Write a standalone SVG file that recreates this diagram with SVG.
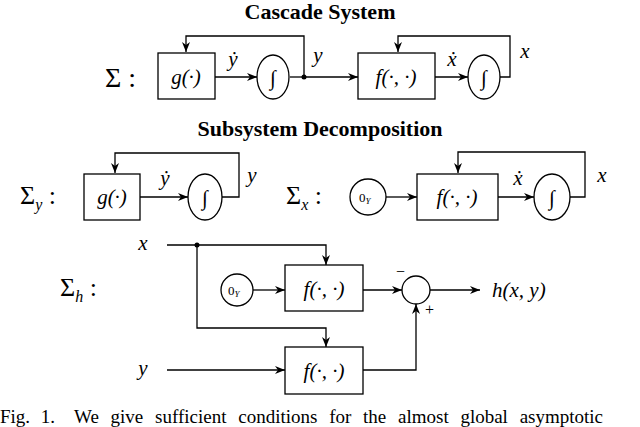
<svg xmlns="http://www.w3.org/2000/svg" width="640" height="427" viewBox="0 0 640 427" font-family="'Liberation Serif', 'Times New Roman', serif">
<style>
text{font-family:'Liberation Serif','Times New Roman',serif;fill:#000}
.t{font-weight:bold;font-size:22px}
.m{font-style:italic;font-size:21px}
.r{font-size:20px}
.b{fill:#fff;stroke:#000;stroke-width:1.3}
.l{fill:none;stroke:#000;stroke-width:1.3}
.a{fill:none;stroke:#000;stroke-width:1.3;marker-end:url(#ar)}
</style>
<defs><marker id="ar" viewBox="0 0 10 8" refX="10" refY="4" markerWidth="10" markerHeight="8" markerUnits="userSpaceOnUse" orient="auto"><path d="M0,0L10,4L0,8L3,4z" fill="#000"/></marker></defs>
<rect width="640" height="427" fill="#fff"/>
<text class="t" x="320" y="19" text-anchor="middle">Cascade System</text>
<text class="t" x="320" y="136" text-anchor="middle">Subsystem Decomposition</text>
<g id="connectors">
<path class="a" d="M304,77V36H186V52"/>
<path class="a" d="M215,77H257"/>
<path class="l" d="M290,77H304"/>
<path class="a" d="M304,77H358"/>
<circle cx="304" cy="77" r="2.5"/>
<path class="a" d="M435,77H468"/>
<path class="a" d="M500,77H510V36H398V52"/>
<path class="a" d="M140,197H188"/>
<path class="a" d="M222,197H239V153H115V173"/>
<path class="a" d="M386,197H417"/>
<path class="a" d="M498,197H534"/>
<path class="a" d="M570,197H585V152H458V173"/>
<path class="a" d="M167,245H326V265"/>
<circle cx="197" cy="245" r="2.5"/>
<path class="a" d="M197,245V328H326V347"/>
<path class="a" d="M253,290H285"/>
<path class="a" d="M363,290H402"/>
<path class="a" d="M430,290H480"/>
<path class="a" d="M167,370H285"/>
<path class="a" d="M363,370H416V304"/>
</g>
<text class="r" x="105" y="87" style="font-size:28px">Σ :</text>
<g id="g1"><rect class="b" x="158" y="53" width="57" height="46"/><text class="m" x="186" y="84" text-anchor="middle">g(·)</text></g>
<text class="m" x="233" y="66" text-anchor="middle">ẏ</text>
<g id="int1"><ellipse class="b" cx="273" cy="77" rx="16" ry="22"/><text class="m" x="273" y="85" text-anchor="middle">∫</text></g>
<text class="m" x="318" y="62" text-anchor="middle">y</text>
<g id="f1"><rect class="b" x="358" y="53" width="77" height="46"/><text class="m" x="396" y="84" text-anchor="middle">f(·, ·)</text></g>
<text class="m" x="452" y="66" text-anchor="middle">ẋ</text>
<g id="int2"><ellipse class="b" cx="484" cy="77" rx="16" ry="22"/><text class="m" x="484" y="85" text-anchor="middle">∫</text></g>
<text class="m" x="525" y="58" text-anchor="middle">x</text>

<text class="r" x="20" y="204" style="font-size:26px">Σ<tspan class="m" style="font-size:16px" dy="6">y</tspan><tspan dy="-6"> :</tspan></text>
<g id="g2"><rect class="b" x="84" y="174" width="56" height="46"/><text class="m" x="112" y="204" text-anchor="middle">g(·)</text></g>
<text class="m" x="165" y="185" text-anchor="middle">ẏ</text>
<g id="int3"><ellipse class="b" cx="205" cy="197" rx="17" ry="23"/><text class="m" x="205" y="205" text-anchor="middle">∫</text></g>
<text class="m" x="252" y="182" text-anchor="middle">y</text>
<text class="r" x="286" y="204" style="font-size:26px">Σ<tspan class="m" style="font-size:16px" dy="6">x</tspan><tspan dy="-6"> :</tspan></text>
<g id="z1"><circle class="b" cx="368" cy="197" r="18"/><text class="r" x="359" y="202" style="font-size:13px">0<tspan class="m" style="font-size:9px" dy="2">Y</tspan></text></g>
<g id="f2"><rect class="b" x="417" y="174" width="81" height="46"/><text class="m" x="457" y="204" text-anchor="middle">f(·, ·)</text></g>
<text class="m" x="518" y="185" text-anchor="middle">ẋ</text>
<g id="int4"><ellipse class="b" cx="552" cy="197" rx="18" ry="23"/><text class="m" x="552" y="205" text-anchor="middle">∫</text></g>
<text class="m" x="602" y="182" text-anchor="middle">x</text>

<text class="r" x="60" y="296" style="font-size:26px">Σ<tspan class="m" style="font-size:16px" dy="6">h</tspan><tspan dy="-6"> :</tspan></text>
<text class="m" x="143" y="250" text-anchor="middle">x</text>
<text class="m" x="143" y="375" text-anchor="middle">y</text>
<g id="z2"><circle class="b" cx="237" cy="290" r="16"/><text class="r" x="228" y="295" style="font-size:13px">0<tspan class="m" style="font-size:9px" dy="2">Y</tspan></text></g>
<g id="f3"><rect class="b" x="285" y="265" width="78" height="46"/><text class="m" x="324" y="296" text-anchor="middle">f(·, ·)</text></g>
<g id="f4"><rect class="b" x="285" y="347" width="78" height="47"/><text class="m" x="324" y="378" text-anchor="middle">f(·, ·)</text></g>
<g id="sum"><circle class="b" cx="416" cy="290" r="14"/></g>
<text class="r" x="396" y="277" style="font-size:16px">−</text>
<text class="r" x="425" y="315" style="font-size:16px">+</text>
<text class="m" x="492" y="297">h(x, y)</text>
<text class="r" x="0" y="423" style="font-size:19px;word-spacing:6px">Fig. 1.</text>
<text class="r" x="74" y="423" style="font-size:19px;word-spacing:7px">We give sufficient conditions for the almost global asymptotic</text>
</svg>
